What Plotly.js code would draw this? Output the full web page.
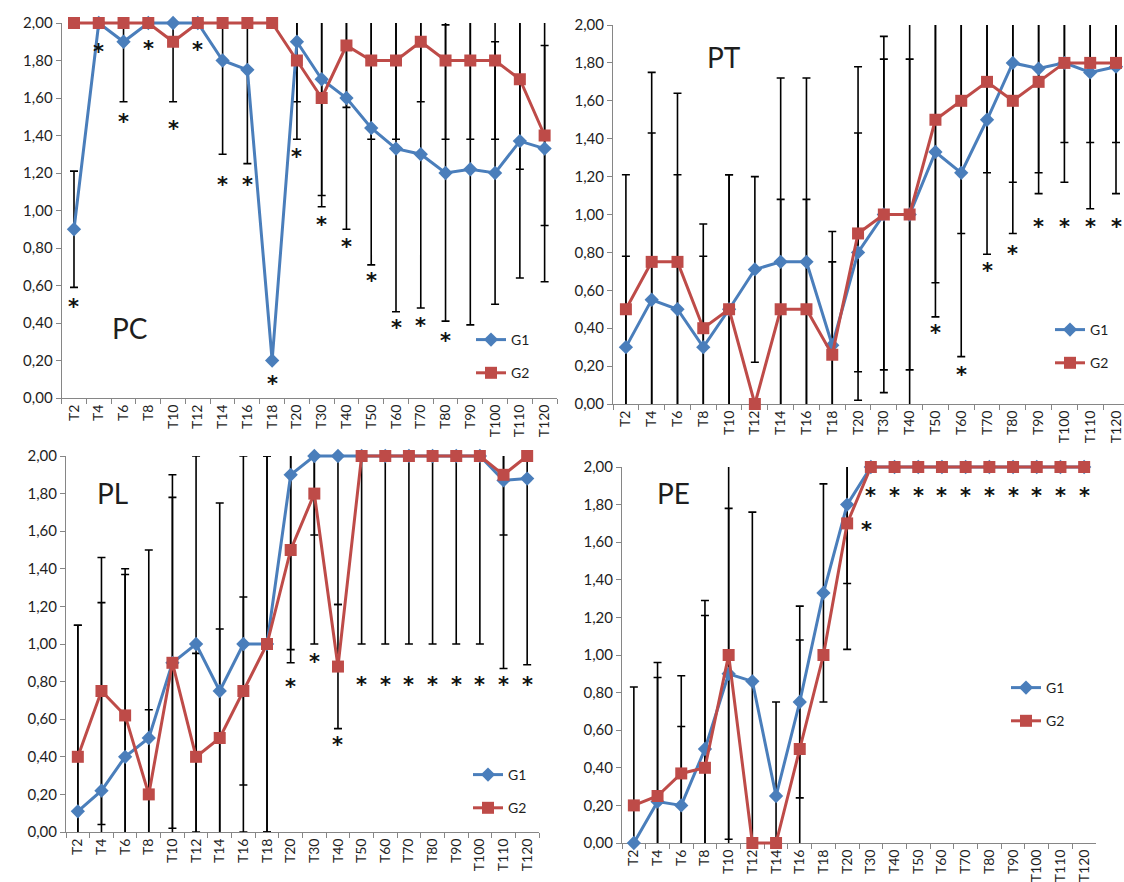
<!DOCTYPE html>
<html>
<head>
<meta charset="utf-8">
<script src="https://cdn.plot.ly/plotly-3.0.1.min.js"></script>
<style>html,body{margin:0;padding:0;background:#fff;}#chart{width:1124px;height:882px;}</style>
</head>
<body>
<div id="chart"></div>
<script>
// ---------- DATA ----------
const categories = ['T2','T4','T6','T8','T10','T12','T14','T16','T18','T20','T30','T40','T50','T60','T70','T80','T90','T100','T110','T120'];
const seriesNames = ['G1','G2'];

// PC
const pcG1 = [0.90,2.00,1.90,2.00,2.00,2.00,1.80,1.75,0.20,1.90,1.70,1.60,1.44,1.33,1.30,1.20,1.22,1.20,1.37,1.33];
const pcG2 = [2.00,2.00,2.00,2.00,1.90,2.00,2.00,2.00,2.00,1.80,1.60,1.88,1.80,1.80,1.90,1.80,1.80,1.80,1.70,1.40];
const pcSd1 = [0.31,null,0.32,null,null,null,0.50,0.50,null,0.32,0.62,0.70,0.73,0.87,0.82,0.79,0.83,0.70,0.73,0.71];
const pcSd2 = [null,null,null,null,0.32,null,null,null,null,0.42,0.58,0.33,0.42,0.42,0.32,0.42,0.42,0.42,0.48,0.48];
const pcStarCats = ['T2','T4','T6','T8','T10','T12','T14','T16','T18','T20','T30','T40','T50','T60','T70','T80'];
const pcStarY = [0.51,1.87,1.50,1.89,1.46,1.88,1.16,1.16,0.10,1.31,0.95,0.83,0.65,0.40,0.41,0.33];

// PT
const ptG1 = [0.30,0.55,0.50,0.30,0.50,0.71,0.75,0.75,0.31,0.80,1.00,1.00,1.33,1.22,1.50,1.80,1.77,1.80,1.75,1.78];
const ptG2 = [0.50,0.75,0.75,0.40,0.50,0.00,0.50,0.50,0.26,0.90,1.00,1.00,1.50,1.60,1.70,1.60,1.70,1.80,1.80,1.80];
const ptSd1 = [0.48,0.88,0.71,0.48,0.71,0.49,0.97,0.97,0.60,0.63,0.82,0.82,0.69,0.97,0.71,0.63,0.66,0.63,0.72,0.67];
const ptSd2 = [0.71,1.00,0.89,0.55,0.71,null,0.58,0.58,0.49,0.88,0.94,1.05,1.04,0.70,0.48,0.70,0.48,0.42,0.42,0.42];
const ptStarCats = ['T50','T60','T70','T80','T90','T100','T110','T120'];
const ptStarY = [0.40,0.18,0.73,0.82,0.96,0.96,0.96,0.96];

// PL
const plG1 = [0.11,0.22,0.40,0.50,0.90,1.00,0.75,1.00,1.00,1.90,2.00,2.00,2.00,2.00,2.00,2.00,2.00,2.00,1.87,1.88];
const plG2 = [0.40,0.75,0.62,0.20,0.90,0.40,0.50,0.75,1.00,1.50,1.80,0.88,2.00,2.00,2.00,2.00,2.00,2.00,1.90,2.00];
const plSd1 = [0.99,1.00,0.97,1.00,1.00,1.00,1.00,1.00,1.00,1.00,1.00,0.79,1.00,1.00,1.00,1.00,1.00,1.00,1.00,0.99];
const plSd2 = [0.70,0.71,0.78,0.45,0.88,0.55,0.58,0.50,1.00,0.53,0.22,0.33,null,null,null,null,null,null,0.32,null];
const plStarCats = ['T20','T30','T40','T50','T60','T70','T80','T90','T100','T110','T120'];
const plStarY = [0.80,0.93,0.49,0.81,0.81,0.81,0.81,0.81,0.81,0.81,0.81];

// PE
const peG1 = [0.00,0.22,0.20,0.50,0.90,0.86,0.25,0.75,1.33,1.80,2.00,2.00,2.00,2.00,2.00,2.00,2.00,2.00,2.00,2.00];
const peG2 = [0.20,0.25,0.37,0.40,1.00,0.00,0.00,0.50,1.00,1.70,2.00,2.00,2.00,2.00,2.00,2.00,2.00,2.00,2.00,2.00];
const peSd1 = [null,0.66,0.42,0.71,0.88,0.90,0.50,0.51,0.58,0.42,null,null,null,null,null,null,null,null,null,null];
const peSd2 = [0.63,0.71,0.52,0.89,1.05,null,null,0.58,null,0.67,null,null,null,null,null,null,null,null,null,null];
const peStarCats = ['T30','T40','T50','T60','T70','T80','T90','T100','T110','T120'];
const peStarY = [1.87,1.87,1.87,1.87,1.87,1.87,1.87,1.87,1.87,1.87];
const peSideStarCats = ['T20'];
const peSideStarY = [1.69];

const yTickVals = [0,0.2,0.4,0.6,0.8,1.0,1.2,1.4,1.6,1.8,2.0];

// ---------- LAYOUT / STYLE ----------
const W = 1124, H = 882;
const FONT = 'Lato, "Open Sans", sans-serif';
const TXT = '#1e1e1e';
const AX = '#868686';
const C1 = '#4A7EBB', C2 = '#BE4B48';

const panels = [
  {name:'PC', g1:pcG1, g2:pcG2, sd1:pcSd1, sd2:pcSd2, sc:pcStarCats, sy:pcStarY,
   L:61.6, R:557, T:23, B:398, xmax:19.5, title:[130,328], leg:[471,324]},
  {name:'PT', g1:ptG1, g2:ptG2, sd1:ptSd1, sd2:ptSd2, sc:ptStarCats, sy:ptStarY,
   L:613, R:1124, T:25, B:404, xmax:19.31, title:[724,57], leg:[1050,314]},
  {name:'PL', g1:plG1, g2:plG2, sd1:plSd1, sd2:plSd2, sc:plStarCats, sy:plStarY,
   L:66, R:539, T:456, B:832, xmax:19.5, title:[112,493], leg:[468,759]},
  {name:'PE', g1:peG1, g2:peG2, sd1:peSd1, sd2:peSd2, sc:peStarCats, sy:peStarY,
   L:622, R:1096, T:467, B:843, xmax:19.5, title:[673,493], leg:[1006,672]}
];

const traces = [];
const layout = {
  width: W, height: H,
  margin: {l:0, r:0, t:0, b:0},
  paper_bgcolor: '#fff', plot_bgcolor: 'rgba(0,0,0,0)',
  separators: ',.',
  showlegend: true,
  annotations: []
};

function axId(n, letter){ return n === 1 ? letter : letter + n; }
function axKey(n, letter){ return n === 1 ? letter + 'axis' : letter + 'axis' + n; }

const EXT = 14; // px padding for the (hidden) series axes so lines at 2,00 are not clipped

panels.forEach((p, i) => {
  const n = i + 1, h = i + 5;
  const xd = [p.L / W, p.R / W];
  const yd = [(H - p.B) / H, (H - p.T) / H];
  const unit = 2 / (p.B - p.T);
  const ydExt = [(H - p.B - EXT) / H, (H - p.T + EXT) / H];
  const yrExt = [-EXT * unit, 2 + EXT * unit];

  layout[axKey(n,'x')] = {
    domain: xd, anchor: axId(n,'y'), type: 'category',
    categoryorder: 'array', categoryarray: categories,
    range: [-0.5, p.xmax], tickson: 'boundaries',
    ticks: 'outside', ticklen: 5, tickcolor: AX, tickwidth: 1,
    showline: true, linecolor: AX, linewidth: 1,
    showgrid: false, zeroline: false, tickangle: -90,
    tickfont: {family: FONT, size: 14, color: TXT}, fixedrange: true
  };
  layout[axKey(n,'y')] = {
    domain: yd, anchor: axId(n,'x'), range: [0, 2],
    tickmode: 'array', tickvals: yTickVals, tickformat: '.2f',
    ticks: 'outside', ticklen: 5, tickcolor: AX, tickwidth: 1,
    showline: true, linecolor: AX, linewidth: 1,
    showgrid: false, zeroline: false,
    tickfont: {family: FONT, size: 15, color: TXT}, fixedrange: true
  };
  layout[axKey(h,'x')] = {
    domain: xd, anchor: axId(h,'y'), type: 'category',
    categoryorder: 'array', categoryarray: categories,
    range: [-0.5, p.xmax], visible: false, fixedrange: true
  };
  layout[axKey(h,'y')] = {
    domain: ydExt, anchor: axId(h,'x'), range: yrExt,
    visible: false, fixedrange: true
  };

  // error bars (clipped at the plot area, like the original)
  [[p.g1, p.sd1], [p.g2, p.sd2]].forEach(([vals, sd]) => {
    traces.push({
      type: 'scatter', mode: 'markers', x: categories, y: vals,
      xaxis: axId(n,'x'), yaxis: axId(n,'y'),
      marker: {size: 1, color: 'rgba(0,0,0,0)'},
      error_y: {type: 'data', array: sd, symmetric: true, color: '#000', thickness: 1.6, width: 4},
      cliponaxis: true, showlegend: false, hoverinfo: 'skip'
    });
  });

  const legName = n === 1 ? 'legend' : 'legend' + n;
  [[p.g1, C1, 'diamond', 11], [p.g2, C2, 'square', 12]].forEach(([vals, col, sym, sz], k) => {
    traces.push({
      type: 'scatter', mode: 'lines+markers', name: seriesNames[k],
      x: categories, y: vals,
      xaxis: axId(h,'x'), yaxis: axId(h,'y'),
      line: {color: col, width: 3},
      marker: {symbol: sym, size: sz, color: col},
      cliponaxis: false, legend: legName, legendgroup: p.name + seriesNames[k],
      hoverinfo: 'x+y'
    });
  });

  layout[legName] = {
    x: p.leg[0] / W, y: (H - p.leg[1]) / H, xanchor: 'left', yanchor: 'top',
    bgcolor: 'rgba(0,0,0,0)', borderwidth: 0,
    traceorder: 'grouped', tracegroupgap: 12,
    font: {family: FONT, size: 14, color: TXT}
  };

  // panel label
  layout.annotations.push({
    xref: 'paper', yref: 'paper', x: p.title[0] / W, y: (H - p.title[1]) / H,
    xanchor: 'center', yanchor: 'middle', showarrow: false,
    text: p.name, font: {family: FONT, size: 28, color: TXT}
  });

  // significance stars
  p.sc.forEach((c, j) => {
    layout.annotations.push({
      xref: axId(n,'x'), yref: axId(n,'y'), x: c, y: p.sy[j],
      xanchor: 'center', yanchor: 'middle', showarrow: false, yshift: -5,
      text: '*', font: {family: '"DejaVu Sans", sans-serif', size: 21, color: '#111', weight: 'bold'}
    });
  });
});

// the PE star placed just right of T20
peSideStarCats.forEach((c, j) => {
  layout.annotations.push({
    xref: 'x4', yref: 'y4', x: c, y: peSideStarY[j],
    xanchor: 'center', yanchor: 'middle', showarrow: false, yshift: -5, xshift: 19,
    text: '*', font: {family: '"DejaVu Sans", sans-serif', size: 21, color: '#111', weight: 'bold'}
  });
});

Plotly.newPlot('chart', traces, layout, {displayModeBar: false, staticPlot: true});
</script>
</body>
</html>
